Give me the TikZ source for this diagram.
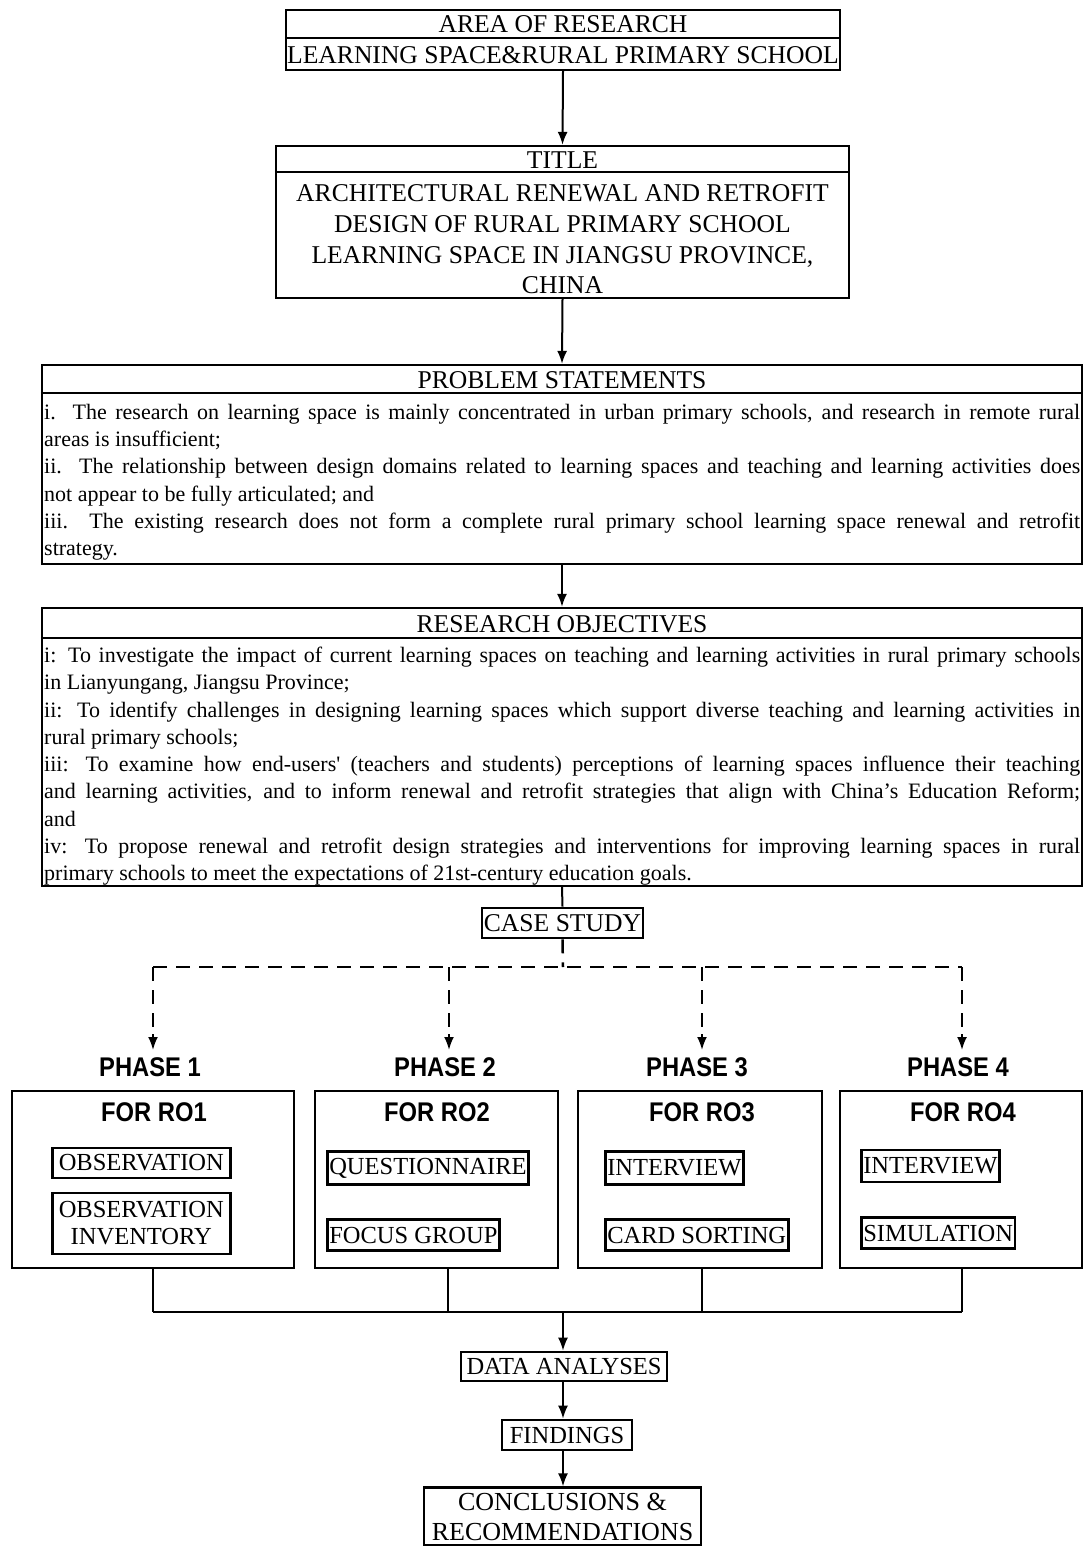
\documentclass[tikz,border=0pt]{standalone}
\usepackage{fontspec}
\setmainfont{Liberation Serif}
\newfontfamily\phasefont{Liberation Sans}[FakeStretch=0.88]
\usetikzlibrary{arrows.meta}
\begin{document}
\begin{tikzpicture}[x=1pt,y=-1pt,
  frame/.style={draw, line width=2.2pt, inner sep=0pt},
  smallbox/.style={draw, line width=2.6pt, inner sep=2pt, font=\fontsize{24.5}{27}\selectfont, align=center},
  head/.style={inner sep=0pt, font=\fontsize{25.6}{32}\selectfont, align=center},
  body/.style={anchor=north west, inner sep=0pt, text width=1036pt, align=justify, font=\fontsize{22}{27.25}\selectfont},
  phase/.style={inner sep=0pt, font=\phasefont\bfseries\fontsize{27}{30}\selectfont},
  arr/.style={line width=2pt, -{Latex[length=13pt,width=10pt]}},
  conn/.style={line width=2pt},
  dashln/.style={line width=2.5pt, dash pattern=on 14pt off 9pt},
]
\useasboundingbox (0,0) rectangle (1084,1546);
\fill[white] (0,0) rectangle (1084,1546);

% Area of research
\node[frame, minimum width=554pt, minimum height=60pt] (area) at (563,40) {};
\draw[line width=2.2pt] (area.west |- 0,38) -- (area.east |- 0,38);
\node[head] (areaA) at (563,24) {AREA OF RESEARCH};
\node[head] (areaB) at (563,55) {LEARNING SPACE\&RURAL PRIMARY SCHOOL};

% Title
\node[frame, minimum width=573pt, minimum height=152pt] (title) at (562.5,222) {};
\draw[line width=2.2pt] (title.west |- 0,172) -- (title.east |- 0,172);
\node[head] (titleA) at (562.5,160) {TITLE};
\node[head, font=\fontsize{25.6}{30.7}\selectfont] (titleB) at (562.5,239.5) {ARCHITECTURAL RENEWAL AND RETROFIT\\DESIGN OF RURAL PRIMARY SCHOOL\\LEARNING SPACE IN JIANGSU PROVINCE,\\CHINA};

% Problem statements
\node[frame, minimum width=1040pt, minimum height=199pt] (prob) at (562,464.5) {};
\draw[line width=2.2pt] (prob.west |- 0,393) -- (prob.east |- 0,393);
\node[head] (probA) at (562,380) {PROBLEM STATEMENTS};
\node[body] (probB) at (44,404) {\setlength\parindent{0pt}%
i.\ \ The research on learning space is mainly concentrated in urban primary schools, and research in remote rural\linebreak areas is insufficient;\par
ii.\ \ The relationship between design domains related to learning spaces and teaching and learning activities does\linebreak not appear to be fully articulated; and\par
iii.\ \ The existing research does not form a complete rural primary school learning space renewal and retrofit\linebreak strategy.\par};

% Research objectives
\node[frame, minimum width=1040pt, minimum height=278pt] (obj) at (562,747) {};
\draw[line width=2.2pt] (obj.west |- 0,638) -- (obj.east |- 0,638);
\node[head] (objA) at (562,624) {RESEARCH OBJECTIVES};
\node[body] (objB) at (44,647) {\setlength\parindent{0pt}%
i: To investigate the impact of current learning spaces on teaching and learning activities in rural primary schools\linebreak in Lianyungang, Jiangsu Province;\par
ii: To identify challenges in designing learning spaces which support diverse teaching and learning activities in\linebreak rural primary schools;\par
iii: To examine how end-users\textquotesingle\ (teachers and students) perceptions of learning spaces influence their teaching\linebreak and learning activities, and to inform renewal and retrofit strategies that align with China’s Education Reform;\linebreak and\par
iv: To propose renewal and retrofit design strategies and interventions for improving learning spaces in rural\linebreak primary schools to meet the expectations of 21st-century education goals.\par};

% Case study
\node[smallbox, font=\fontsize{25.6}{30}\selectfont, minimum width=161pt, minimum height=30pt, inner sep=0pt] (cs) at (562.5,923) {CASE STUDY};

\draw[arr] (area.south) -- (title.north);
\draw[arr] (title.south) -- (prob.north);
\draw[arr] (prob.south) -- (obj.north);
\draw[conn] (obj.south) -- (cs.north);

% dashed distribution
\coordinate (dmid) at (563,967);
\coordinate (d1) at (153,967);
\coordinate (d2) at (449,967);
\coordinate (d3) at (702,967);
\coordinate (d4) at (962,967);
\coordinate (e1) at (153,1050);
\coordinate (e2) at (449,1050);
\coordinate (e3) at (702,1050);
\coordinate (e4) at (962,1050);
\draw[dashln] (cs.south) -- (dmid);
\draw[dashln] (d1) -- (d4);
\foreach \i in {1,2,3,4}{
  \draw[dashln] (d\i) -- ([yshift=14pt]e\i);
  \draw[arr] ([yshift=16pt]e\i) -- (e\i);
}

% Phase labels
\node[phase] (p1) at (150,1067) {PHASE 1};
\node[phase] (p2) at (445,1067) {PHASE 2};
\node[phase] (p3) at (697,1067) {PHASE 3};
\node[phase] (p4) at (958,1067) {PHASE 4};

% Phase boxes
\node[frame, minimum width=282pt, minimum height=177pt] (b1) at (153,1179.5) {};
\node[frame, minimum width=243pt, minimum height=177pt] (b2) at (436.5,1179.5) {};
\node[frame, minimum width=244pt, minimum height=177pt] (b3) at (700,1179.5) {};
\node[frame, minimum width=242pt, minimum height=177pt] (b4) at (961,1179.5) {};
\node[phase] (r1) at (154,1112) {FOR RO1};
\node[phase] (r2) at (437,1112) {FOR RO2};
\node[phase] (r3) at (702,1112) {FOR RO3};
\node[phase] (r4) at (963,1112) {FOR RO4};

\node[smallbox, anchor=west, minimum width=178pt, minimum height=30pt] (m1a) at (51,1163) {OBSERVATION};
\node[smallbox, anchor=west, minimum width=178pt, minimum height=61pt] (m1b) at (51,1223.5) {OBSERVATION\\INVENTORY};
\node[smallbox, anchor=west, minimum height=33pt] (m2a) at (326,1168) {QUESTIONNAIRE};
\node[smallbox, anchor=west, minimum height=31pt] (m2b) at (326,1235) {FOCUS GROUP};
\node[smallbox, anchor=west, minimum height=33pt] (m3a) at (604,1168) {INTERVIEW};
\node[smallbox, anchor=west, minimum height=31pt] (m3b) at (604,1235) {CARD SORTING};
\node[smallbox, anchor=west, minimum height=32pt] (m4a) at (860,1166) {INTERVIEW};
\node[smallbox, anchor=west, minimum height=31pt] (m4b) at (860,1233) {SIMULATION};

% Collect
\coordinate (j1) at (153,1312);
\coordinate (j2) at (448,1312);
\coordinate (j3) at (702,1312);
\coordinate (j4) at (962,1312);
\coordinate (jm) at (563,1312);
\draw[conn] (b1.south -| j1) -- (j1);
\draw[conn] (b2.south -| j2) -- (j2);
\draw[conn] (b3.south -| j3) -- (j3);
\draw[conn] (b4.south -| j4) -- (j4);
\draw[conn] (j1) -- (j4);

\node[smallbox, minimum width=206pt, minimum height=29pt, inner sep=0pt] (da) at (564,1366.5) {DATA ANALYSES};
\node[smallbox, minimum width=130pt, minimum height=30pt, inner sep=0pt] (fi) at (567,1435) {FINDINGS};
\node[frame, minimum width=277pt, minimum height=58pt, font=\fontsize{26}{30}\selectfont, align=center] (cr) at (562.5,1516.5) {CONCLUSIONS \&\\RECOMMENDATIONS};

\draw[arr] (jm) -- (da.north -| jm);
\draw[arr] (da.south -| jm) -- (fi.north -| jm);
\draw[arr] (fi.south -| jm) -- (cr.north -| jm);
\end{tikzpicture}
\end{document}
